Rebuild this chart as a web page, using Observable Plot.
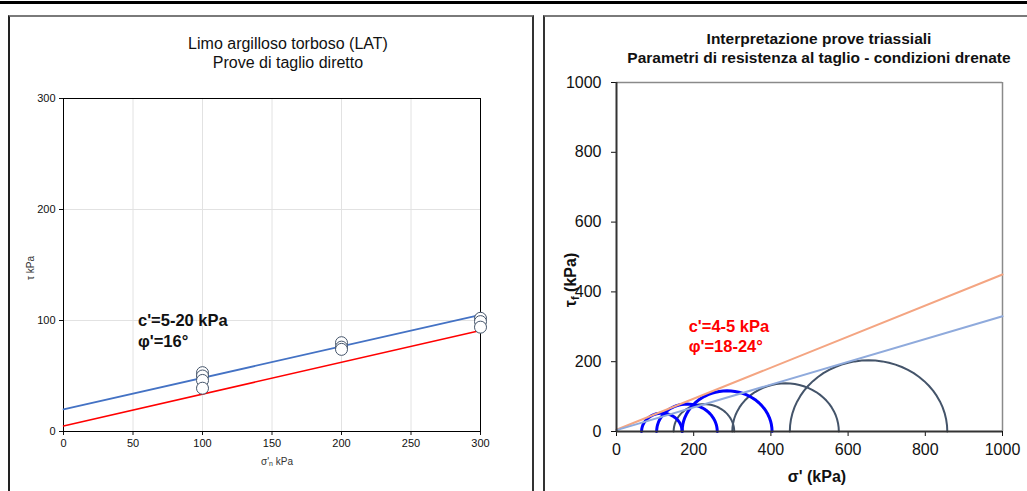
<!DOCTYPE html>
<html><head><meta charset="utf-8">
<script src="https://cdn.jsdelivr.net/npm/d3@7"></script>
<script src="https://cdn.jsdelivr.net/npm/@observablehq/plot@0.6"></script>
<style>
body{margin:0;background:#fff;width:1027px;height:491px;overflow:hidden;position:relative;font-family:"Liberation Sans",Arial,sans-serif;}
.abs{position:absolute;}
#leftChart,#rightChart{position:absolute;top:0;}
#leftChart{left:0;} #rightChart{left:535px;}
.lbl{position:absolute;white-space:nowrap;transform:translate(-50%,-50%);}
.rot{transform:translate(-50%,-50%) rotate(-90deg);}
sub{font-size:70%;vertical-align:-0.25em;line-height:0;}
</style></head><body>
<div class="abs" style="left:0;top:1px;width:1027px;height:3px;background:#000"></div>
<div class="abs" style="left:8px;top:15px;width:522px;height:500px;border-left:2px solid #222;border-top:2px solid #7a7a7a;border-right:2px solid #333;"></div>
<div class="abs" style="left:543px;top:15px;width:600px;height:500px;border-left:2px solid #333;border-top:2px solid #7a7a7a;"></div>
<div id="leftChart"></div>
<div id="rightChart"></div>
<div class="abs" style="left:88px;top:34px;width:400px;text-align:center;font-size:16px;line-height:19px;color:#111">Limo argilloso torboso (LAT)<br>Prove di taglio diretto</div>
<div class="abs" style="left:519px;top:30px;width:600px;text-align:center;font-size:15.5px;line-height:18.5px;font-weight:bold;color:#111">Interpretazione prove triassiali<br>Parametri di resistenza al taglio - condizioni drenate</div>
<div class="lbl rot" style="left:30px;top:268px;font-size:10px;color:#333">τ kPa</div>
<div class="lbl" style="left:277px;top:461px;font-size:10px;color:#333">σ'<sub>n</sub> kPa</div>
<div class="lbl" style="left:817px;top:477px;font-size:16px;font-weight:bold;color:#111">σ' (kPa)</div>
<div class="lbl rot" style="left:571px;top:280px;font-size:16px;font-weight:bold;color:#111">τ<sub>f</sub> (kPa)</div>
<script>
// ---- Left chart data (direct shear) ----
const leftXTicks = [0, 50, 100, 150, 200, 250, 300];
const leftYTicks = [0, 100, 200, 300];
const leftGridY = [100, 200];
const shearNormal = [100, 100, 100, 100, 200, 200, 200, 300, 300, 300];
const shearTau    = [53, 50, 46, 39, 80, 76, 74, 102, 99, 94];
const envLeftX = [0, 300];
const envBlueLeft = [20, 105];
const envRedLeft  = [5, 91];
const leftNote = ["c'=5-20 kPa", "φ'=16°"];
const leftNoteY = [100, 81];

// ---- Right chart data (triaxial, Mohr circles) ----
const rightTicks = [0, 200, 400, 600, 800, 1000];
const envRightX = [0, 1000];
const envOrange = [5, 450];
const envLightBlue = [4, 330];
const sigma3 = [65, 104, 170, 148, 300, 449];
const sigma1 = [170, 261, 403, 305, 576, 857];
const circleGroup = ["blue", "blue", "blue", "gray", "gray", "gray"];
const rightNote = ["c'=4-5 kPa", "φ'=18-24°"];
const rightNoteY = [299, 242];

const font = "'Liberation Sans', Arial, sans-serif";
const plain = d => String(d);

// Left plot
const leftShear = shearNormal.map((x, i) => ({x, y: shearTau[i]}));
const lineBlueL = envLeftX.map((x, i) => ({x, y: envBlueLeft[i]}));
const lineRedL = envLeftX.map((x, i) => ({x, y: envRedLeft[i]}));
const leftPlot = Plot.plot({
  width: 535, height: 491,
  marginLeft: 63, marginRight: 55, marginTop: 98, marginBottom: 60,
  style: {fontFamily: font, fontSize: "11px", background: "transparent", color: "#111", overflow: "visible"},
  x: {domain: [0, 300], ticks: leftXTicks, tickSize: 4, tickPadding: 4, tickFormat: plain, label: null},
  y: {domain: [0, 300], ticks: leftYTicks, tickSize: 4, tickPadding: 4, tickFormat: plain, label: null},
  marks: [
    Plot.ruleX(leftXTicks.slice(1, -1), {stroke: "#e2e2e2", strokeWidth: 1}),
    Plot.ruleY(leftGridY, {stroke: "#e2e2e2", strokeWidth: 1}),
    Plot.frame({stroke: "#000", strokeWidth: 1}),
    Plot.line(lineRedL, {x: "x", y: "y", stroke: "#FF0000", strokeWidth: 1.5}),
    Plot.line(lineBlueL, {x: "x", y: "y", stroke: "#4472C4", strokeWidth: 1.8}),
    Plot.dot(leftShear, {x: "x", y: "y", r: 6, stroke: "#44546A", fill: "white", strokeWidth: 1}),
    Plot.text(leftNote, {x: 53.6, y: (d, i) => leftNoteY[i], text: d => d, textAnchor: "start", fontWeight: "bold", fontSize: 16.5, fill: "#111"})
  ]
});
document.getElementById("leftChart").appendChild(leftPlot);

// Right plot
const circlePts = [];
sigma3.forEach((s3, i) => {
  const c = (s3 + sigma1[i]) / 2, r = (sigma1[i] - s3) / 2;
  for (let a = 0; a <= 180; a += 5) {
    const t = a * Math.PI / 180;
    circlePts.push({id: i, g: circleGroup[i], x: c + r * Math.cos(t), y: r * Math.sin(t)});
  }
});
const grayPts = circlePts.filter(d => d.g === "gray");
const bluePts = circlePts.filter(d => d.g === "blue");
const lineOr = envRightX.map((x, i) => ({x, y: envOrange[i]}));
const lineLb = envRightX.map((x, i) => ({x, y: envLightBlue[i]}));
const rightPlot = Plot.plot({
  width: 492, height: 491,
  marginLeft: 81, marginRight: 25, marginTop: 82, marginBottom: 60,
  style: {fontFamily: font, fontSize: "16px", background: "transparent", color: "#111", overflow: "visible"},
  x: {domain: [0, 1000], ticks: rightTicks, tickSize: 5, tickPadding: 7, tickFormat: plain, label: null},
  y: {domain: [0, 1000], ticks: rightTicks, tickSize: 5, tickPadding: 10, tickFormat: plain, label: null},
  marks: [
    Plot.ruleY([1000], {stroke: "#8a8a8a", strokeWidth: 1.5}),
    Plot.ruleX([1000], {stroke: "#8a8a8a", strokeWidth: 1.5}),
    Plot.line(grayPts, {x: "x", y: "y", z: "id", stroke: "#44546A", strokeWidth: 2}),
    Plot.line(bluePts, {x: "x", y: "y", z: "id", stroke: "#0000FF", strokeWidth: 3}),
    Plot.line(lineOr, {x: "x", y: "y", stroke: "#F4A582", strokeWidth: 2}),
    Plot.line(lineLb, {x: "x", y: "y", stroke: "#8FAADC", strokeWidth: 2}),
    Plot.ruleY([0], {stroke: "#333", strokeWidth: 2}),
    Plot.ruleX([0], {stroke: "#333", strokeWidth: 2}),
    Plot.text(rightNote, {x: 187, y: (d, i) => rightNoteY[i], text: d => d, textAnchor: "start", fontWeight: "bold", fontSize: 16.5, fill: "#FF0000"})
  ]
});
document.getElementById("rightChart").appendChild(rightPlot);
</script>
</body></html>
